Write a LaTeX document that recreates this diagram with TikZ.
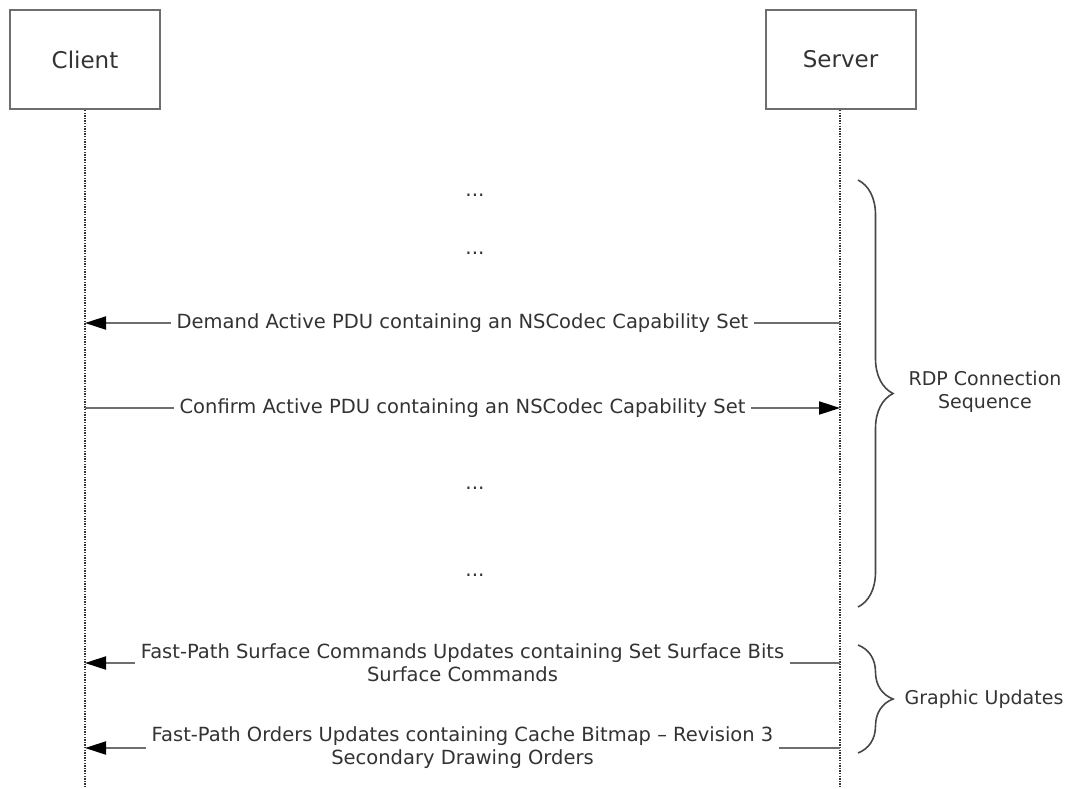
\documentclass[tikz,border=0pt]{standalone}
\usepackage{fontspec}
\setmainfont{DejaVu Sans}
\usetikzlibrary{arrows.meta,decorations.pathreplacing}
\definecolor{inkgray}{HTML}{333333}
\definecolor{linegray}{HTML}{6E6E6E}

\begin{document}
\begin{tikzpicture}[x=1pt,y=-1pt,
    actor/.style={draw=linegray, line width=2pt, minimum width=150pt, minimum height=99pt, text=inkgray, font=\fontsize{23}{27}\selectfont},
    lifeline/.style={draw=inkgray, line width=1.6pt, dash pattern=on 1.4pt off 1.2pt},
    msg/.style={draw=linegray, line width=2pt, -{Triangle[length=21pt,width=13pt,black]}},
    msglabel/.style={fill=white, inner xsep=6pt, inner ysep=1pt, align=center, text=inkgray, font=\fontsize{19.5}{23}\selectfont},
    dots/.style={text=inkgray, font=\fontsize{20}{24}\selectfont},
    grpbrace/.style={draw=inkgray!90, line width=1.6pt, decorate, decoration={brace, amplitude=35pt}},
    grplabel/.style={align=center, text=inkgray, font=\fontsize{19}{23}\selectfont}
    ]
    \useasboundingbox (0,0) rectangle (1065,788);

    % the two parties
    \node [actor] (client) at (85,59.5) {Client};
    \node [actor] (server) at (840.5,59.5) {Server};
    \coordinate (cend) at (85,788);
    \coordinate (send) at (840,788);
    \draw [lifeline] (client.south) -- (cend);
    \draw [lifeline] (server.south -| send) -- (send);

    % elided steps
    \node [dots] (d1) at (475,195) {...};
    \node [dots] (d2) at (475,253) {...};
    \node [dots] (d3) at (475,488) {...};
    \node [dots] (d4) at (475,575) {...};

    % capability exchange
    \coordinate (c1) at (85,323);  \coordinate (s1) at (840,323);
    \coordinate (c2) at (85,408);  \coordinate (s2) at (840,408);
    \draw [msg] (s1) -- (c1) node [msglabel,midway] {Demand Active PDU containing an NSCodec Capability Set};
    \draw [msg] (c2) -- (s2) node [msglabel,midway] {Confirm Active PDU containing an NSCodec Capability Set};

    % graphic updates
    \coordinate (c3) at (85,663);  \coordinate (s3) at (840,663);
    \coordinate (c4) at (85,748);  \coordinate (s4) at (840,748);
    \draw [msg] (s3) -- (c3) node [msglabel,midway] {Fast-Path Surface Commands Updates containing Set Surface Bits\\Surface Commands};
    \draw [msg] (s4) -- (c4) node [msglabel,midway] {Fast-Path Orders Updates containing Cache Bitmap -- Revision 3\\Secondary Drawing Orders};

    % phases
    \coordinate (b1t) at (858,180);  \coordinate (b1b) at (858,607);
    \coordinate (b2t) at (858,645);  \coordinate (b2b) at (858,753);
    \draw [grpbrace] (b1t) -- (b1b);
    \draw [grpbrace] (b2t) -- (b2b);
    \node [grplabel] (rdp) at (985,392) {RDP Connection\\Sequence};
    \node [grplabel] (gfx) at (984,699) {Graphic Updates};
\end{tikzpicture}
\end{document}
